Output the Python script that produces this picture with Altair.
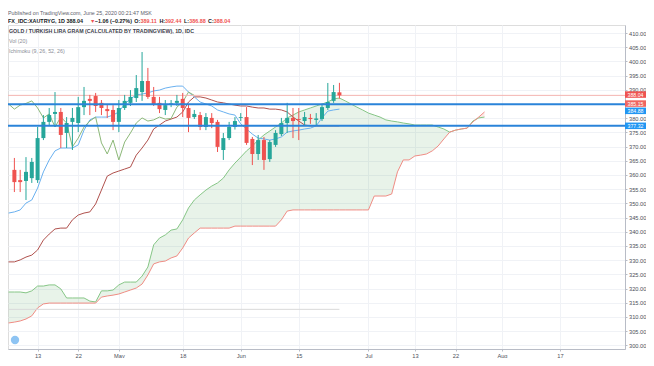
import altair as alt
import pandas as pd

# ---------------- data (trading-day index: 0 = Mon 13 Apr 2020, 52 = Wed 24 Jun 2020) ----------------
bar_index = list(range(-4, 53))
opens = [361.8, 358.2, 357.9, 358.9, 358.2, 373.0, 378.7, 381.5, 382.2, 374.8,
         378.7, 378.3, 383.9, 386.8, 387.8, 385.4, 383.2, 382.9, 378.7, 383.6,
         385.4, 387.1, 389.2, 393.1, 387.5, 385.4, 382.9, 384.8, 385.4, 386.8,
         383.6, 380.4, 381.1, 376.9, 380.1, 378.7, 368.8, 373.0, 376.9, 380.1,
         380.4, 372.7, 367.4, 372.3, 365.6, 370.6, 374.4, 378.3, 380.1, 379.7,
         379.0, 380.1, 379.4, 379.7, 383.6, 386.1, 389.11]
highs = [366.0, 361.8, 366.3, 366.0, 376.9, 381.1, 383.6, 389.2, 383.6, 380.4,
         383.6, 387.5, 391.0, 388.2, 388.9, 386.4, 385.0, 384.6, 386.4, 388.2,
         389.9, 395.2, 403.3, 397.7, 391.0, 387.5, 386.4, 386.4, 388.2, 388.9,
         385.0, 382.9, 382.2, 381.8, 381.8, 379.4, 374.8, 378.7, 380.4, 381.8,
         383.9, 373.4, 374.1, 373.4, 372.3, 375.8, 380.1, 385.4, 383.6, 383.6,
         382.2, 381.5, 381.8, 385.0, 392.4, 391.7, 392.44]
lows = [354.0, 354.0, 351.2, 357.2, 357.2, 372.3, 377.3, 376.9, 369.5, 369.5,
        368.8, 375.1, 381.1, 381.1, 382.2, 381.1, 380.1, 375.8, 375.1, 382.9,
        384.3, 385.7, 386.1, 386.8, 384.3, 381.8, 381.1, 383.9, 384.3, 380.4,
        375.1, 379.7, 375.8, 375.8, 376.5, 368.1, 365.3, 372.3, 376.0, 379.0,
        370.6, 363.5, 365.3, 361.8, 364.6, 369.9, 373.7, 374.8, 373.0, 372.3,
        377.6, 378.0, 377.3, 379.0, 382.9, 385.4, 386.88]
closes = [357.5, 357.5, 361.1, 364.6, 373.0, 378.7, 381.1, 382.2, 374.1, 378.3,
          380.1, 383.9, 386.1, 386.1, 384.3, 383.6, 382.5, 378.7, 383.6, 386.1,
          387.5, 390.6, 393.1, 387.5, 385.0, 383.2, 384.6, 385.2, 386.1, 383.6,
          380.1, 381.5, 376.9, 380.4, 378.3, 369.9, 373.0, 376.9, 379.0, 380.4,
          371.3, 367.4, 372.3, 365.3, 371.6, 374.8, 378.3, 380.1, 379.0, 379.4,
          380.4, 379.7, 379.9, 383.9, 385.7, 389.2, 388.04]

ichi_index = list(range(-5, 53))
conversion = [346.6, 347.0, 347.7, 350.1, 351.2,
              355.4, 361.1, 365.3, 368.5, 369.5,
              369.5, 369.5, 370.6, 375.8, 379.4,
              380.4, 380.4, 380.4, 381.1, 382.2,
              385.0, 386.8, 388.2, 388.5, 388.9,
              389.6, 389.9, 390.6, 391.0, 391.3,
              391.3, 389.2, 387.5, 385.7, 385.0,
              384.3, 382.9, 382.2, 381.5, 381.1,
              378.0, 376.2, 374.4, 373.0, 372.7,
              372.3, 372.7, 373.4, 375.1, 375.5,
              375.8, 376.2, 376.5, 377.3, 380.1,
              382.5, 382.9, 383.2]
base = [329.4, 329.4, 330.1, 331.1, 331.8,
        333.6, 337.1, 339.2, 341.0, 341.3,
        341.3, 344.2, 345.9, 346.6, 347.0,
        349.8, 354.7, 359.6, 360.7, 361.4,
        362.1, 362.8, 367.0, 369.5, 372.3,
        376.2, 377.6, 379.0, 379.7, 380.4,
        382.2, 385.7, 387.5, 387.5, 387.1,
        386.4, 385.7, 385.4, 385.0, 384.6,
        384.3, 384.3, 383.9, 383.6, 383.6,
        383.2, 383.2, 382.9, 382.2, 380.4,
        379.0, 377.6, 377.3, 377.3, 377.3,
        377.3, 377.3, 377.3]

lead_index = list(range(-5, 78))
lead_a = [318.8, 318.8, 318.8, 318.5, 319.2,
          320.9, 320.9, 321.3, 321.3, 319.9,
          316.7, 316.7, 316.7, 316.7, 315.6,
          315.3, 319.2, 319.2, 319.5, 321.3,
          322.3, 322.3, 322.3, 324.4, 327.6,
          335.4, 337.8, 338.9, 340.6, 341.0,
          344.2, 348.4, 351.2, 353.0, 354.7,
          356.1, 357.2, 358.9, 361.8, 364.2,
          366.3, 368.5, 370.2, 372.3, 374.1,
          375.5, 376.9, 378.3, 380.1, 381.1,
          382.2, 382.9, 383.6, 384.3, 385.0,
          385.7, 386.8, 387.1, 386.1, 385.0,
          383.9, 382.9, 381.8, 381.1, 380.4,
          379.4, 379.0, 378.7, 378.3, 378.0,
          377.6, 377.6, 377.6, 377.6, 376.9,
          376.2, 375.1, 375.8, 376.2, 376.5,
          379.0, 380.1, 380.4]
lead_b = [307.9, 308.2, 308.6, 309.3, 310.4,
          313.2, 314.6, 314.9, 314.9, 314.9,
          314.9, 314.9, 314.9, 314.9, 314.9,
          314.9, 317.0, 317.4, 317.7, 318.1,
          318.8, 319.5, 320.2, 321.6, 324.8,
          328.7, 329.4, 329.7, 330.8, 331.5,
          334.3, 337.8, 339.6, 341.3, 341.3,
          341.3, 341.3, 341.3, 341.3, 342.0,
          342.0, 342.0, 342.0, 342.0, 342.0,
          342.0, 342.0, 344.2, 347.3, 347.7,
          347.7, 347.7, 347.7, 347.7, 347.7,
          347.7, 347.7, 347.7, 347.7, 347.7,
          347.7, 347.7, 347.7, 352.6, 352.6,
          352.6, 353.3, 361.1, 365.3, 365.3,
          366.7, 367.0, 367.4, 368.5, 370.2,
          372.7, 375.1, 375.8, 376.2, 376.5,
          378.7, 380.4, 382.2]
lag_shift = 25

tick_index = [0, 7, 14, 25, 35, 45, 57, 65, 72, 80, 90]
tick_labels = ["13", "22", "May", "18", "Jun", "15", "Jul", "13", "22", "Aug", "17"]
price_ticks = list(range(300, 415, 5))
hidden_price_labels = [385]   # covered by the price tags in the original

last_price = 388.04
level_lines = [384.88, 377.32]
vol_line_index = [-5, 52]
vol_line_value = [312.7, 312.7]
tag_text = ["388.04", "385.15", "384.88", "377.32"]
tag_price = [388.04, 385.15, 384.88, 377.32]
tag_color = ["#ef5350", "#f06560", "#2196f3", "#2196f3"]
tag_shift = [-0.8, 0, 6.5, 0]

header1 = "Published on TradingView.com, June 25, 2020 00:21:47 MSK"
header2 = [("FX_IDC:XAUTRYG, 1D 388.04", "#131722", 0),
           ("\u25BC", "#ef5350", 82),
           ("\u22121.06 (\u22120.27%)", "#131722", 86.8),
           ("O:", "#131722", 126.3), ("389.11", "#ef5350", 132.5),
           ("H:", "#131722", 151.4), ("392.44", "#ef5350", 157.1),
           ("L:", "#131722", 176.0), ("386.88", "#ef5350", 181.2),
           ("C:", "#131722", 200.0), ("388.04", "#ef5350", 205.8)]
legend_lines = [("GOLD / TURKISH LIRA GRAM (CALCULATED BY TRADINGVIEW), 1D, IDC", "#3d404a", 6),
                ("Vol (20)", "#8a8d96", 16),
                ("Ichimoku (9, 26, 52, 26)", "#8a8d96", 26)]

# ---------------- frames ----------------
bars = pd.DataFrame({"i": bar_index, "o": opens, "h": highs, "l": lows, "c": closes})
bars["dir"] = ["up" if c >= o else "down" for o, c in zip(opens, closes)]
ichi = pd.DataFrame({"i": ichi_index, "conv": conversion, "base": base})
cloud = pd.DataFrame({"i": lead_index, "a": lead_a, "b": lead_b})
cloud["lo"] = cloud[["a", "b"]].min(axis=1)
lag = pd.DataFrame({"i": [b - lag_shift for b in bar_index], "v": closes})
lag = lag[lag["i"] >= -5]
vol = pd.DataFrame({"i": vol_line_index, "v": vol_line_value})

W, H = 617, 324
FONT = "Liberation Sans"
xs = alt.Scale(domain=[-4.2373, 100.339], nice=False, zero=False)
ys = alt.Scale(domain=[298.732, 412.817], nice=False, zero=False)

expr = ""
for v, lab in zip(tick_index, tick_labels):
    expr += f"datum.value == {v} ? '{lab}' : "
expr += "''"

yexpr = ""
for v in hidden_price_labels:
    yexpr += f"datum.value == {v} ? '' : "
yexpr += "format(datum.value, '.2f')"

x_axis = alt.Axis(values=tick_index, labelExpr=expr, grid=True, gridColor="#f0f2f6",
                  domainColor="#b8bcc6", tickColor="#b8bcc6", tickSize=2, labelFontSize=5.7,
                  labelColor="#4c4f5a", labelFont=FONT, labelPadding=1, title=None)
y_axis = alt.Axis(orient="right", values=price_ticks, labelExpr=yexpr, grid=True, gridColor="#f0f2f6",
                  domainColor="#b8bcc6", tickColor="#b8bcc6", tickSize=2, labelFontSize=5.7,
                  labelColor="#4c4f5a", labelFont=FONT, labelPadding=1.5, title=None)


def X(f):
    return alt.X(f, scale=xs, axis=x_axis)


def Y(f):
    return alt.Y(f, scale=ys, axis=y_axis)


layers = []
layers.append(alt.Chart(cloud).mark_area(color="#43a047", opacity=0.12, clip=True)
              .encode(x=X("i:Q"), y=Y("a:Q"), y2="lo:Q"))
layers.append(alt.Chart(cloud).mark_area(color="#f44336", opacity=0.12, clip=True)
              .encode(x=X("i:Q"), y=Y("b:Q"), y2="lo:Q"))
layers.append(alt.Chart(cloud).mark_line(color="#86c686", strokeWidth=1, clip=True)
              .encode(x=X("i:Q"), y=Y("a:Q")))
layers.append(alt.Chart(cloud).mark_line(color="#f08c84", strokeWidth=1, clip=True)
              .encode(x=X("i:Q"), y=Y("b:Q")))
layers.append(alt.Chart(vol).mark_line(color="#d9d9d9", strokeWidth=1, clip=True)
              .encode(x=X("i:Q"), y=Y("v:Q")))
layers.append(alt.Chart(ichi).mark_line(color="#b0514d", strokeWidth=1, clip=True)
              .encode(x=X("i:Q"), y=Y("base:Q")))
layers.append(alt.Chart(ichi).mark_line(color="#6ab1f0", strokeWidth=1, clip=True)
              .encode(x=X("i:Q"), y=Y("conv:Q")))
layers.append(alt.Chart(lag).mark_line(color="#8cb878", strokeWidth=1, clip=True)
              .encode(x=X("i:Q"), y=Y("v:Q")))
layers.append(alt.Chart(pd.DataFrame({"p": [last_price]})).mark_rule(color="#f4b4b1", strokeWidth=1)
              .encode(y=Y("p:Q")))

candle_color = alt.Color("dir:N", scale=alt.Scale(domain=["up", "down"], range=["#26a69a", "#ef5350"]),
                         legend=None)
layers.append(alt.Chart(bars).mark_rule(strokeWidth=1, clip=True)
              .encode(x=X("i:Q"), y=Y("l:Q"), y2="h:Q", color=candle_color))
layers.append(alt.Chart(bars).mark_bar(size=4, clip=True)
              .encode(x=X("i:Q"), y=Y("o:Q"), y2="c:Q", color=candle_color))

layers.append(alt.Chart(pd.DataFrame({"p": level_lines})).mark_rule(color="#2a83d9", strokeWidth=2)
              .encode(y=Y("p:Q")))

# header and legend texts
layers.append(alt.Chart(pd.DataFrame({"t": [header1]})).mark_text(
    align="left", baseline="middle", font=FONT, fontSize=5.3, color="#5d606b")
    .encode(x=alt.value(0), y=alt.value(-12.5), text="t:N"))
for txt, col, xp in header2:
    layers.append(alt.Chart(pd.DataFrame({"t": [txt]})).mark_text(
        align="left", baseline="middle", font=FONT, fontSize=5.4, fontWeight="bold", color=col)
        .encode(x=alt.value(xp), y=alt.value(-4.5), text="t:N"))
for txt, col, yp in legend_lines:
    layers.append(alt.Chart(pd.DataFrame({"t": [txt]})).mark_text(
        align="left", baseline="middle", font=FONT, fontSize=5.3, color=col,
        fontWeight="bold" if yp == 6 else "normal")
        .encode(x=alt.value(1), y=alt.value(yp), text="t:N"))

# price tags on the right scale
for txt, p, col, sh in zip(tag_text, tag_price, tag_color, tag_shift):
    df = pd.DataFrame({"p": [p], "t": [txt]})
    layers.append(alt.Chart(df).mark_rule(color=col, strokeWidth=6.5, strokeCap="butt", yOffset=sh)
                  .encode(x=alt.value(617), x2=alt.value(638), y=Y("p:Q")))
    layers.append(alt.Chart(df).mark_text(color="white", font=FONT, fontSize=5.2, align="center",
                                          baseline="middle", yOffset=sh)
                  .encode(x=alt.value(627.5), y=Y("p:Q"), text="t:N"))

# TradingView logo badge
layers.append(alt.Chart(pd.DataFrame({"t": ["tv"]})).mark_point(
    filled=True, size=70, color="#8ec4f3", opacity=1)
    .encode(x=alt.value(7), y=alt.value(315)))

chart = alt.layer(*layers).properties(
    width=W, height=H,
    padding={"left": 0, "top": 17, "right": 21, "bottom": 9},
    autosize=alt.AutoSizeParams(type="none"),
).configure_view(stroke="#d1d4dc", strokeWidth=1).configure(background="white")

chart.save("out.html", embed_options={"renderer": "svg", "actions": False})
